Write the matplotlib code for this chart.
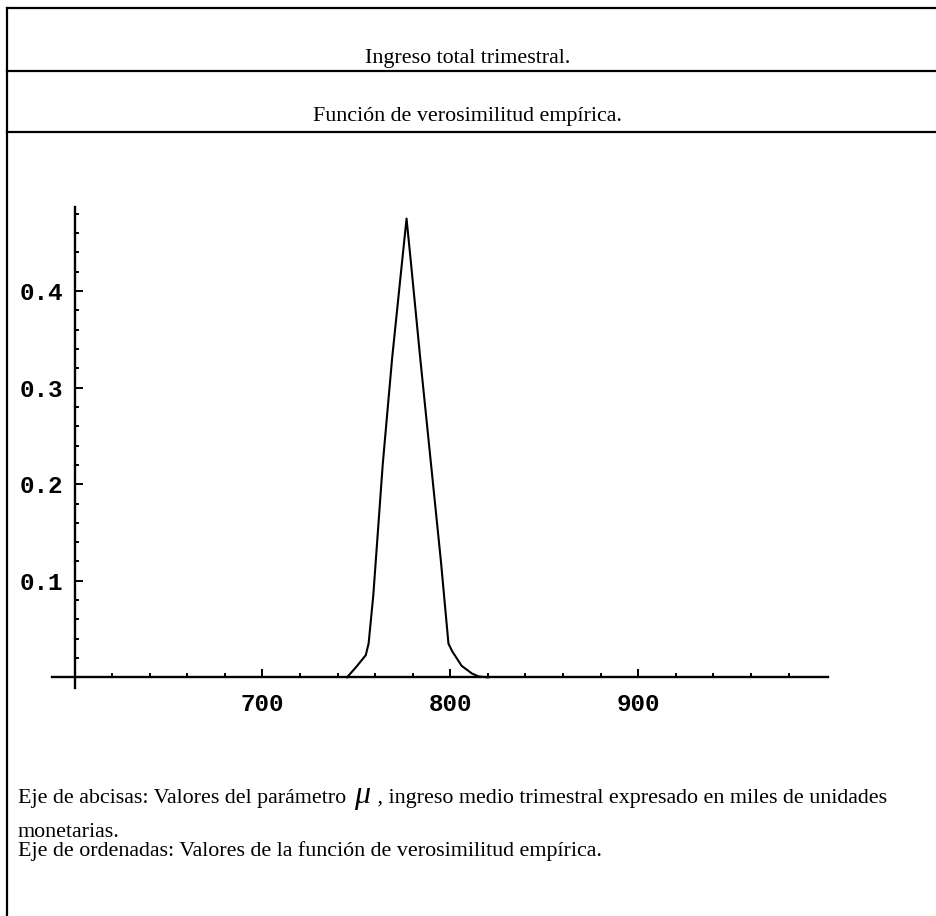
import matplotlib
matplotlib.use('Agg')
import matplotlib.pyplot as plt
from matplotlib.lines import Line2D
from matplotlib.ticker import FixedLocator, NullFormatter

# Valores
mu = [745, 750, 755, 756.5, 759, 764, 769, 773.5, 776.7, 779, 784, 789.5,
      795, 799, 801, 806, 811.5, 815, 820]
verosimilitud = [0.0, 0.011, 0.023, 0.035, 0.085, 0.22, 0.33, 0.415, 0.475,
                 0.43, 0.33, 0.225, 0.12, 0.035, 0.027, 0.012, 0.004, 0.001, 0.0]

x_major = [700, 800, 900]
x_minor = [v for v in range(620, 1000, 20) if v not in x_major]
y_major = [0.1, 0.2, 0.3, 0.4]
y_minor = [round(0.02 * k, 2) for k in range(1, 25) if k % 5 != 0]

titulo1 = 'Ingreso total trimestral.'
titulo2 = 'Función de verosimilitud empírica.'
pie1a = 'Eje de abcisas: Valores del parámetro '
pie1b = 'μ'
pie1c = ' , ingreso medio trimestral expresado en miles de unidades'
pie2 = 'monetarias.'
pie3 = 'Eje de ordenadas: Valores de la función de verosimilitud empírica.'

W, H = 937, 916
fig = plt.figure(figsize=(W / 100, H / 100), dpi=100)


def px(x, y):
    return x / W, 1 - y / H


def hline(y, x0=7, x1=W):
    (a, b), (c, d) = px(x0, y), px(x1, y)
    fig.add_artist(Line2D([a, c], [b, d], color='black', lw=1.6))


# marco del cuadro
for y in (8, 71, 132):
    hline(y)
(a, b), (c, d) = px(7, 8), px(7, H)
fig.add_artist(Line2D([a, c], [b, d], color='black', lw=1.6))

serif = 'Liberation Serif'
fs = 15.8
fig.text(*px(468, 59), titulo1, ha='center', va='center', fontsize=fs, family=serif)
fig.text(*px(468, 116), titulo2, ha='center', va='center', fontsize=fs, family=serif)

# gráfico estilo Mathematica
ax = fig.add_axes([52 / W, (H - 688) / H, (828 - 52) / W, (688 - 207) / H])
ax.plot(mu, verosimilitud, color='black', lw=1.5)
ax.set_xlim(588, 1001)
ax.set_ylim(-0.011, 0.487)
for s in ('top', 'right'):
    ax.spines[s].set_visible(False)
ax.spines['left'].set_position(('data', 600))
ax.spines['bottom'].set_position(('data', 0))
for s in ('left', 'bottom'):
    ax.spines[s].set_linewidth(1.7)
ax.xaxis.set_major_locator(FixedLocator(x_major))
ax.xaxis.set_minor_locator(FixedLocator(x_minor))
ax.yaxis.set_major_locator(FixedLocator(y_major))
ax.yaxis.set_minor_locator(FixedLocator(y_minor))
ax.xaxis.set_minor_formatter(NullFormatter())
ax.yaxis.set_minor_formatter(NullFormatter())
ax.tick_params(which='both', direction='in', width=1.4)
ax.tick_params(which='major', length=5.5)
ax.tick_params(which='minor', length=3)
ax.tick_params(axis='x', which='major', pad=11)
ax.tick_params(axis='y', which='major', pad=8)
ax.set_xticklabels([str(v) for v in x_major], family='Liberation Mono',
                   fontsize=17.5, fontweight='bold')
ax.set_yticklabels([f'{v:.1f}' for v in y_major], family='Liberation Mono',
                   fontsize=17.5, fontweight='bold')
ax.patch.set_alpha(0)

# pie de figura
renderer = fig.canvas.get_renderer()
t = fig.text(*px(18, 803), pie1a, fontsize=fs, family=serif, va='baseline')
x_end = t.get_window_extent(renderer).x1
t = fig.text(x_end / W + 0.003, 1 - 803 / H, pie1b, fontsize=23, family=serif,
             style='italic', va='baseline')
x_end = t.get_window_extent(renderer).x1
fig.text(x_end / W + 0.002, 1 - 803 / H, pie1c, fontsize=fs, family=serif, va='baseline')
fig.text(*px(18, 837), pie2, fontsize=fs, family=serif, va='baseline')
fig.text(*px(18, 856), pie3, fontsize=fs, family=serif, va='baseline')

fig.savefig('out.png', dpi=100)
plt.close(fig)
